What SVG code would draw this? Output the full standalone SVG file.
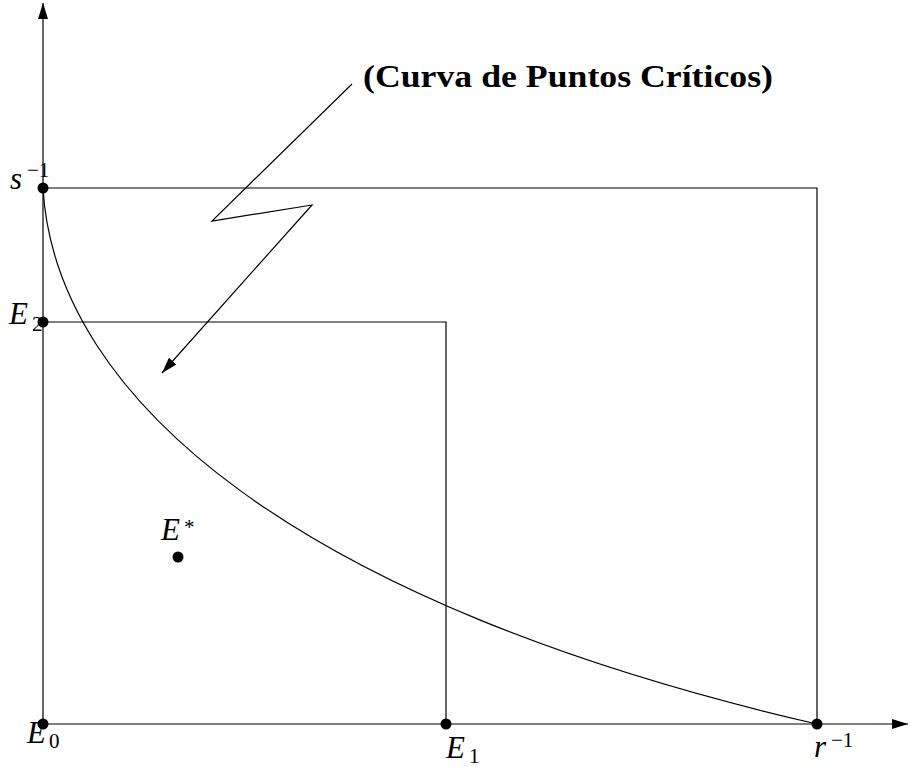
<svg xmlns="http://www.w3.org/2000/svg" width="911" height="767" viewBox="0 0 911 767">
<defs>
<marker id="ah" viewBox="0 0 16 10" refX="16" refY="5" markerWidth="16" markerHeight="10" markerUnits="userSpaceOnUse" orient="auto">
<path d="M0,0 L16,5 L0,10 Z" fill="#000"/>
</marker>
<style>
.ln{fill:none;stroke:#000;stroke-width:1.2}
.dot{fill:#000}
.lb{font-family:"Liberation Serif","Times New Roman",serif;font-style:italic;font-size:31px;fill:#000}
.sb{font-family:"Liberation Serif","Times New Roman",serif;font-style:normal;font-size:21px;fill:#000}
.tt{font-family:"Liberation Serif","Times New Roman",serif;font-weight:bold;font-size:32px;fill:#000}
</style>
</defs>
<rect width="911" height="767" fill="#fff"/>
<g id="connectors">
<line class="ln" x1="43" y1="724" x2="43" y2="3" marker-end="url(#ah)"/>
<line class="ln" x1="43" y1="724" x2="908" y2="724" marker-end="url(#ah)"/>
<polyline class="ln" points="43,188 817,188 817,724"/>
<polyline class="ln" points="43,322 446,322 446,724"/>
<path class="ln" d="M43,188 C55,400 300,605 817,724"/>
<polyline class="ln" points="352,84 212,221 312,205 162,373" marker-end="url(#ah)"/>
</g>
<g id="s-inv">
<circle class="dot" cx="43" cy="188" r="5.5"/>
<text class="lb" x="10" y="189">s</text>
<text class="sb" x="27" y="177">−1</text>
</g>
<g id="E2">
<circle class="dot" cx="43" cy="322" r="5.5"/>
<text class="lb" x="9" y="324">E</text>
<text class="sb" x="32" y="331">2</text>
</g>
<g id="E0">
<circle class="dot" cx="43" cy="724" r="5.5"/>
<text class="lb" x="27" y="743">E</text>
<text class="sb" x="49" y="748">0</text>
</g>
<g id="E1">
<circle class="dot" cx="446" cy="724" r="5.5"/>
<text class="lb" x="446" y="758">E</text>
<text class="sb" x="469" y="763">1</text>
</g>
<g id="r-inv">
<circle class="dot" cx="817" cy="724" r="5.5"/>
<text class="lb" x="814" y="757">r</text>
<text class="sb" x="831" y="747">−1</text>
</g>
<g id="E-star">
<circle class="dot" cx="178" cy="557" r="5.5"/>
<text class="lb" x="161" y="540">E</text>
<text class="sb" x="184" y="534">*</text>
</g>
<g id="title">
<text class="tt" x="363" y="87" textLength="410" lengthAdjust="spacingAndGlyphs">(Curva de Puntos Críticos)</text>
</g>
</svg>
